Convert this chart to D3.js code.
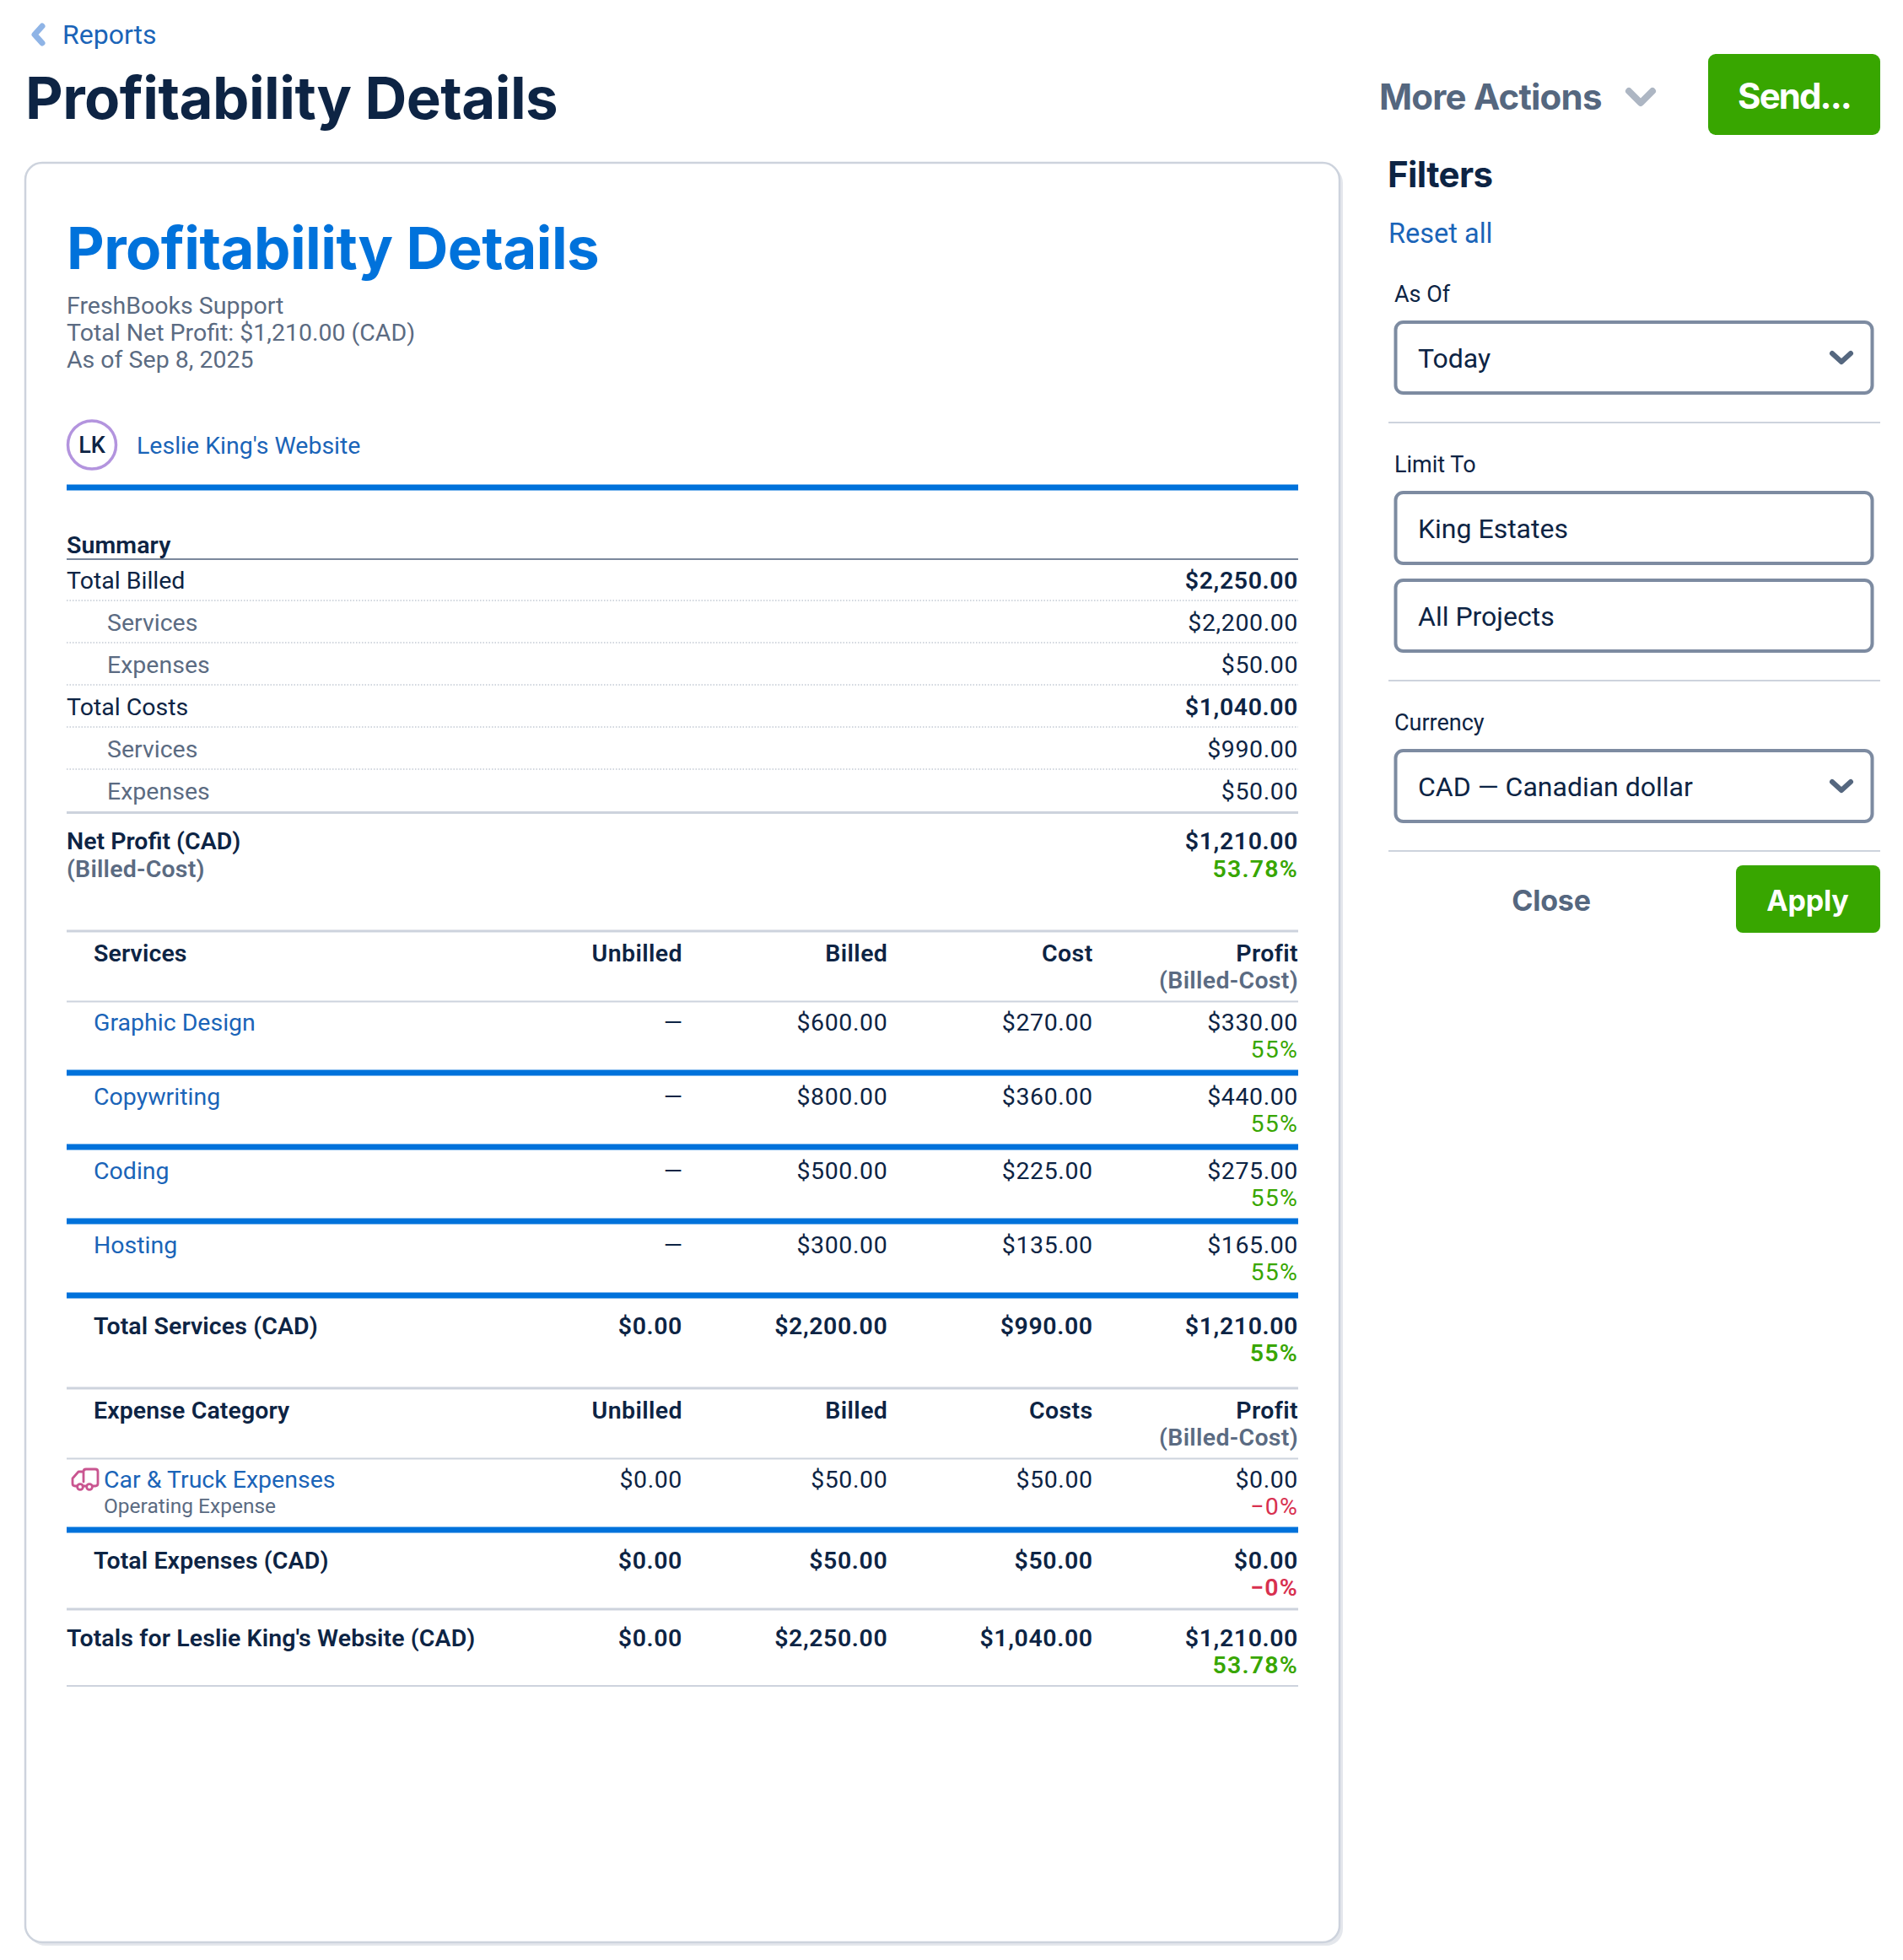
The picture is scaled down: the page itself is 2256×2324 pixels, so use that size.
<!DOCTYPE html>
<html><head><meta charset="utf-8">
<script src="https://cdn.jsdelivr.net/npm/d3@7/dist/d3.min.js"></script>
<style>html,body{margin:0;padding:0;background:#fff}svg{display:block}</style></head>
<body><div id="c"></div>
<script>
const summaryLabels=["Total Billed","Services","Expenses","Total Costs","Services ","Expenses "];
const summaryValues=[2250,2200,50,1040,990,50];
const summaryIsTotal=[true,false,false,true,false,false];
const netProfit=1210, netProfitPct="53.78%";
const columnsA=["Unbilled","Billed","Cost","Profit"];
const columnsB=["Unbilled","Billed","Costs","Profit"];
const serviceNames=["Graphic Design","Copywriting","Coding","Hosting"];
const serviceBilled=[600,800,500,300];
const serviceCost=[270,360,225,135];
const serviceProfit=[330,440,275,165];
const servicePct=["55%","55%","55%","55%"];
const serviceTotal=[0,2200,990,1210], serviceTotalPct="55%";
const expenseRow=[0,50,50,0];
const expenseTotal=[0,50,50,0], expensePct="−0%";
const grandTotal=[0,2250,1040,1210], grandPct="53.78%";

const W=2256,H=2324;
const BODY="Roboto, sans-serif", HEAD="Inter, sans-serif";
const NAVY="#0d2444",GREY="#5b6b82",LINK="#1a64b8",BLUE="#0072db",GREEN="#38a600",RULE="#cdd3dd",RED="#d8304f";
const money=d3.format("$,.2f");
const svg=d3.select("#c").append("svg").attr("width",W).attr("height",H).attr("viewBox",`0 0 ${W} ${H}`);
const L=79,R=1539;
const NUM=.6,PCT=1.2;
const colX=d3.scalePoint().domain(columnsA).range([809,R]);
function T(x,y,s,o={}){
  return svg.append("text").attr("x",x).attr("y",y).text(s)
   .attr("font-family",o.f||BODY).attr("font-size",o.z||28.5).attr("font-weight",o.w||400)
   .attr("fill",o.c||NAVY).attr("text-anchor",o.a||"start").attr("letter-spacing",o.ls||0);
}
function Rule(y,h,c,dash,x1=L,x2=R){
  const l=svg.append("line").attr("x1",x1).attr("x2",x2).attr("y1",y).attr("y2",y).attr("stroke",c).attr("stroke-width",h);
  if(dash)l.attr("stroke-dasharray",dash);return l;
}
function Chev(cx,cy,w,h,c,sw){
  const line=d3.line();
  svg.append("path").attr("d",line([[cx-w,cy-h],[cx,cy+h],[cx+w,cy-h]])).attr("fill","none").attr("stroke",c).attr("stroke-width",sw).attr("stroke-linecap","round").attr("stroke-linejoin","round");
}
// top
svg.append("path").attr("d",d3.line()([[50,31],[41,41],[50,51]])).attr("fill","none").attr("stroke","#8fb4e6").attr("stroke-width",7).attr("stroke-linecap","round").attr("stroke-linejoin","round");
T(74,52,"Reports",{c:LINK,z:32});
T(30,141,"Profitability Details",{f:HEAD,z:69,w:700,ls:-.55});
T(1635,130,"More Actions",{f:HEAD,z:42,w:700,c:"#55677f",ls:-.8});
Chev(1945,115,14,7,"#adb6c3",8);
svg.append("rect").attr("x",2025).attr("y",64).attr("width",204).attr("height",96).attr("rx",9).attr("fill",GREEN);
T(2127,129,"Send...",{f:HEAD,z:42,w:700,c:"#fff",a:"middle",ls:-1.9});
// card
svg.append("rect").attr("x",34).attr("y",197).attr("width",1558).attr("height",2110).attr("rx",20).attr("fill","#e4e7ec");
svg.append("rect").attr("x",30).attr("y",193).attr("width",1558).attr("height",2110).attr("rx",20).attr("fill","#fff").attr("stroke",RULE).attr("stroke-width",2.5);
T(L,319,"Profitability Details",{f:HEAD,z:69,w:700,c:BLUE,ls:-.55});
["FreshBooks Support","Total Net Profit: $1,210.00 (CAD)","As of Sep 8, 2025"].forEach((s,i)=>T(L,371.5+i*32.3,s,{c:GREY}));
svg.append("circle").attr("cx",109).attr("cy",527.5).attr("r",28.5).attr("fill","#fff").attr("stroke","#b394de").attr("stroke-width",3.5);
T(109,537,"LK",{a:"middle",z:27,w:500});
T(162,538,"Leslie King's Website",{c:LINK});
Rule(578,7,BLUE);
// summary
T(L,656,"Summary",{w:600,ls:.1});
Rule(663,2,"#7b889c");
const sumY=d3.scalePoint().domain(summaryLabels).range([698,948]);
summaryLabels.forEach((s,i)=>{
  const y=sumY(s),tot=summaryIsTotal[i];
  T(tot?L:127,y,s.trim(),{c:tot?NAVY:GREY});
  T(R,y,money(summaryValues[i]),{a:"end",w:tot?600:400,ls:NUM});
  if(i<5)Rule(y+14,1.5,"#c3cad4","1.5,2");
});
Rule(963.5,3,RULE);
T(L,1007,"Net Profit (CAD)",{w:600});
T(L,1039.5,"(Billed-Cost)",{w:600,c:GREY,ls:.2});
T(R,1007,money(netProfit),{a:"end",w:600,ls:NUM});
T(R,1039.5,netProfitPct,{a:"end",w:600,c:GREEN,ls:PCT});
// table helpers
function header(y,cols,name){
  Rule(y-36,3,RULE);
  T(111,y,name,{w:600,ls:.1});
  cols.forEach((c,i)=>T(colX(columnsA[i]),y,c,{a:"end",w:600,ls:.4}));
  T(R,y+32,"(Billed-Cost)",{a:"end",w:600,c:GREY,ls:.3});
  Rule(y+47.5,2,RULE);
}
function totals(y,x,name,vals,pct,col){
  T(x,y,name,{w:600,ls:.1});
  vals.forEach((v,i)=>T(colX(columnsA[i]),y,money(v),{a:"end",w:600,ls:NUM}));
  T(R,y+32,pct,{a:"end",w:600,c:col,ls:PCT});
}
// services
header(1140,columnsA,"Services");
const svcY=d3.scalePoint().domain(serviceNames).range([1222,1486]);
serviceNames.forEach((s,i)=>{
  const y=svcY(s);
  T(111,y,s,{c:LINK});
  T(colX("Unbilled"),y,"—",{a:"end"});
  T(colX("Billed"),y,money(serviceBilled[i]),{a:"end",ls:NUM});
  T(colX("Cost"),y,money(serviceCost[i]),{a:"end",ls:NUM});
  T(colX("Profit"),y,money(serviceProfit[i]),{a:"end",ls:NUM});
  T(R,y+32,servicePct[i],{a:"end",c:GREEN,ls:PCT});
  Rule(y+50,7,BLUE);
});
totals(1582,111,"Total Services (CAD)",serviceTotal,serviceTotalPct,GREEN);
// expenses
header(1682,columnsB,"Expense Category");
T(123,1763.5,"Car & Truck Expenses",{c:LINK});
T(123,1794,"Operating Expense",{c:GREY,z:24.5});
expenseRow.forEach((v,i)=>T(colX(columnsA[i]),1763.5,money(v),{a:"end",ls:NUM}));
T(R,1796,expensePct,{a:"end",c:RED,ls:PCT});
Rule(1814,7,BLUE);
const truck=svg.append("g").attr("fill","none").attr("stroke","#c95590").attr("stroke-width",2.8).attr("stroke-linejoin","round").attr("stroke-linecap","round");
truck.append("path").attr("d","M99 1757V1745q0-3 3-3h11q3 0 3 3v14q0 3-3 3h-3M101 1762h-3M91 1762h-2q-3 0-3-3v-6l7-8h6");
truck.append("circle").attr("cx",95).attr("cy",1763).attr("r",3.4);
truck.append("circle").attr("cx",106).attr("cy",1763).attr("r",3.4);
totals(1860,111,"Total Expenses (CAD)",expenseTotal,expensePct,RED);
Rule(1908,3,RULE);
totals(1952,L,"Totals for Leslie King's Website (CAD)",grandTotal,grandPct,GREEN);
Rule(1999,2,RULE);
// filters
T(1645,222,"Filters",{f:HEAD,z:42,w:700,ls:-.6});
T(1646,288,"Reset all",{c:LINK,z:32.5});
function box(y,h,s,chev){
  svg.append("rect").attr("x",1654.5).attr("y",y).attr("width",565).attr("height",h).attr("rx",9).attr("fill","#fff").attr("stroke","#7d8ba1").attr("stroke-width",4);
  T(1681,y+h/2+12,s,{z:32});
  if(chev)Chev(2183,y+h/2,11,5,"#55677f",6);
}
T(1653,358,"As Of",{z:27});
box(382,84,"Today",true);
Rule(501,2,RULE,null,1646,2229);
T(1653,560,"Limit To",{z:27});
box(584,84,"King Estates");
box(688,84,"All Projects");
Rule(807,2,RULE,null,1646,2229);
T(1653,866,"Currency",{z:27});
box(890,84,"CAD — Canadian dollar",true);
Rule(1009,2,RULE,null,1646,2229);
T(1839,1080,"Close",{f:HEAD,z:34,w:700,c:"#55677f",a:"middle",ls:-.2});
svg.append("rect").attr("x",2058).attr("y",1026).attr("width",171).attr("height",80).attr("rx",8).attr("fill",GREEN);
T(2143,1080,"Apply",{f:HEAD,z:34,w:700,c:"#fff",a:"middle",ls:-.2});
</script></body></html>
